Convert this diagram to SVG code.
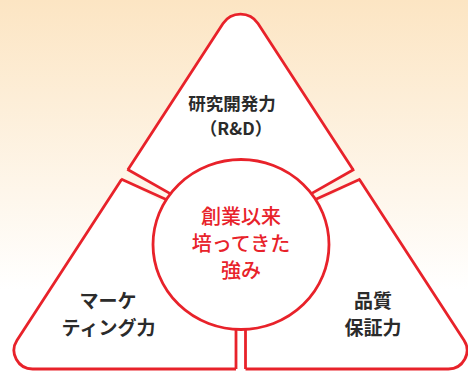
<svg xmlns="http://www.w3.org/2000/svg" width="468" height="371" viewBox="0 0 468 371">
  <defs>
    <linearGradient id="bg" gradientUnits="userSpaceOnUse" x1="0" y1="0" x2="0" y2="290">
      <stop offset="0" stop-color="#FCE5C3"/>
      <stop offset="1" stop-color="#FFFFFF"/>
    </linearGradient>
    <style>
      .edge { fill: #ffffff; stroke: #E8222A; stroke-width: 2.8; stroke-linejoin: round; }
      .gap { fill: url(#bg); stroke: none; }
      .gapline { stroke: #E8222A; stroke-width: 2.8; fill: none; }
      .lbl { font-family: "Noto Sans CJK JP", "Noto Sans", sans-serif; font-weight: 700; font-size: 19px; fill: #2b2b2b; text-anchor: middle; }
      .rd { font-size: 17.5px; }
      .core { font-family: "Noto Sans CJK JP", "Noto Sans", sans-serif; font-weight: 500; font-size: 20px; fill: #E8222A; text-anchor: middle; }
    </style>
  </defs>
  <rect x="0" y="0" width="468" height="371" fill="url(#bg)"/>
  <g id="triangle">
    <path class="edge" d="M223,23.5 A21,21 0 0 1 258,23.5 L464,340.3 A18.6,18.6 0 0 1 448.4,369 L32.6,369 A18.6,18.6 0 0 1 17,340.3 Z"/>
  </g>
  <g id="connectors">
    <polygon class="gap" points="123.8,167.3 175,196.4 170,206.4 117.5,177"/>
    <line class="gapline" x1="127.3" y1="169.3" x2="175" y2="196.4"/>
    <line class="gapline" x1="121" y1="179" x2="170" y2="201.3"/>
    <polygon class="gap" points="357.7,167.3 306.5,196.4 311.5,206.4 364,177"/>
    <line class="gapline" x1="354.2" y1="169.3" x2="306.5" y2="196.4"/>
    <line class="gapline" x1="360.5" y1="179" x2="311.5" y2="201.3"/>
    <rect class="gap" x="236" y="315" width="9.5" height="58"/>
    <line class="gapline" x1="236" y1="315" x2="236" y2="369"/>
    <line class="gapline" x1="245.5" y1="315" x2="245.5" y2="369"/>
  </g>
  <g id="center">
    <ellipse cx="241" cy="244.5" rx="88" ry="85" fill="#ffffff" stroke="#E8222A" stroke-width="2.8"/>
    <text class="core" x="241" y="224">創業以来</text>
    <text class="core" x="241" y="251">培ってきた</text>
    <text class="core" x="241" y="278">強み</text>
  </g>
  <g id="rd">
    <text class="lbl rd" x="232" y="110">研究開発力</text>
    <text class="lbl rd" x="236" y="135">（R&amp;D）</text>
  </g>
  <g id="marketing">
    <text class="lbl" x="108" y="308">マーケ</text>
    <text class="lbl" x="108.5" y="335">ティング力</text>
  </g>
  <g id="quality">
    <text class="lbl" x="373" y="308">品質</text>
    <text class="lbl" x="373" y="335">保証力</text>
  </g>
</svg>
